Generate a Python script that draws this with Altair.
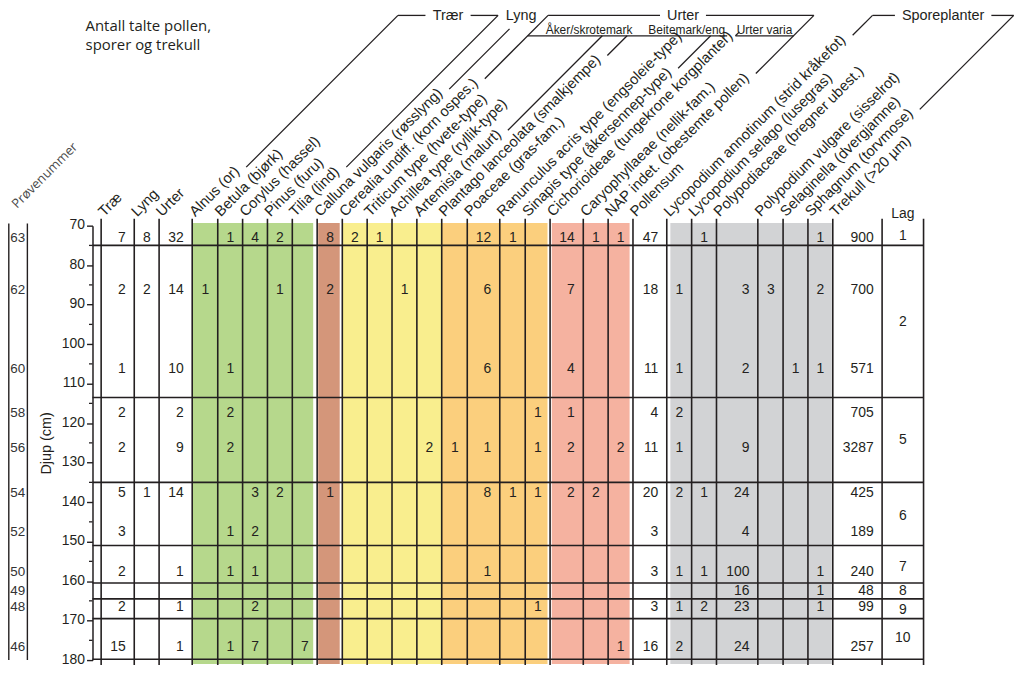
import altair as alt
import pandas as pd

# ---------------- data ----------------
_ = None
columns = [
    "Træ", "Lyng", "Urter",
    "Alnus (or)", "Betula (bjørk)", "Corylus (hassel)", "Pinus (furu)", "Tilia (lind)",
    "Calluna vulgaris (røsslyng)",
    "Cerealia undiff. (korn ospes.)", "Triticum type (hvete-type)", "Achillea type (ryllik-type)",
    "Artemisia (malurt)", "Plantago lanceolata (smalkjempe)", "Poaceae (gras-fam.)",
    "Ranunculus acris type (engsoleie-type)", "Sinapis type (åkersennep-type)",
    "Cichorioideae (tungekrone korgplanter)", "Caryophyllaeae (nellik-fam.)",
    "NAP indet. (obestemte pollen)", "Pollensum",
    "Lycopodium annotinum (strid kråkefot)", "Lycopodium selago (lusegras)",
    "Polypodiaceae (bregner ubest.)", "Polypodium vulgare (sisselrot)",
    "Selaginella (dvergjamne)", "Sphagnum (torvmose)", "Trekull (>20 µm)",
]
samples = [63, 62, 60, 58, 56, 54, 52, 50, 49, 48, 46]
sample_depths = [73.2, 86.4, 106.3, 117.4, 126.2, 137.6, 147.7, 157.7, 162.6, 166.6, 176.6]

s63 = [7, 8, 32, _, 1, 4, 2, _, 8, 2, 1, _, _, _, 12, 1, _, 14, 1, 1, 47, _, 1, _, _, _, 1, 900]
s62 = [2, 2, 14, 1, _, _, 1, _, 2, _, _, 1, _, _, 6, _, _, 7, _, _, 18, 1, _, 3, 3, _, 2, 700]
s60 = [1, _, 10, _, 1, _, _, _, _, _, _, _, _, _, 6, _, _, 4, _, _, 11, 1, _, 2, _, 1, 1, 571]
s58 = [2, _, 2, _, 2, _, _, _, _, _, _, _, _, _, _, _, 1, 1, _, _, 4, 2, _, _, _, _, _, 705]
s56 = [2, _, 9, _, 2, _, _, _, _, _, _, _, 2, 1, 1, _, 1, 2, _, 2, 11, 1, _, 9, _, _, _, 3287]
s54 = [5, 1, 14, _, _, 3, 2, _, 1, _, _, _, _, _, 8, 1, 1, 2, 2, _, 20, 2, 1, 24, _, _, _, 425]
s52 = [3, _, _, _, 1, 2, _, _, _, _, _, _, _, _, _, _, _, _, _, _, 3, _, _, 4, _, _, _, 189]
s50 = [2, _, 1, _, 1, 1, _, _, _, _, _, _, _, _, 1, _, _, _, _, _, 3, 1, 1, 100, _, _, 1, 240]
s49 = [_, _, _, _, _, _, _, _, _, _, _, _, _, _, _, _, _, _, _, _, _, _, _, 16, _, _, 1, 48]
s48 = [2, _, 1, _, _, 2, _, _, _, _, _, _, _, _, _, _, 1, _, _, _, 3, 1, 2, 23, _, _, 1, 99]
s46 = [15, _, 1, _, 1, 7, _, 7, _, _, _, _, _, _, _, _, _, _, _, 1, 16, 2, _, 24, _, _, _, 257]
rows = [s63, s62, s60, s58, s56, s54, s52, s50, s49, s48, s46]

lag_names = ["1", "2", "5", "6", "7", "8", "9", "10"]
lag_depths = [72.5, 94.4, 124.2, 143.5, 156.5, 162.6, 167.2, 174.5]
boundary_depths = [75, 113.5, 135, 151, 160.5, 164.5, 169.5, 179.8]
depth_ticks = list(range(70, 181, 10))
minor_ticks = list(range(75, 180, 10))

# ---------------- layout (not data) ----------------
FONT = "Liberation Sans"
INK = "#231f20"
X0 = 93.0                      # screen x of the depth axis
PX = 437 / 110                 # pixels per cm on the depth scale
col_w = [33.3, 25, 33.3, 25.7, 25, 25, 25, 25, 25.3, 25, 25, 25, 25, 25.7, 32.7,
         25.6, 25, 33.4, 25, 25, 34, 25, 25, 41.6, 25.4, 25, 25, 49.6, 41.7]
edges = [101.7]
for w in col_w:
    edges.append(edges[-1] + w)
left, right = edges[:-1], edges[1:]
LAG = len(col_w) - 1


def rx(sx):
    return sx - X0


def hy(sy):
    return 70 + (sy - 225) / PX


ARIAL = {" ": 278, "(": 333, ")": 333, ".": 278, "-": 333, "/": 278, ">": 584, "µ": 576,
         "A": 667, "B": 667, "C": 722, "L": 556, "N": 722, "P": 667, "R": 722, "S": 667,
         "T": 611, "U": 722, "a": 556, "b": 556, "c": 500, "d": 556, "e": 556, "f": 278,
         "g": 556, "h": 556, "i": 222, "j": 222, "k": 500, "l": 222, "m": 833, "n": 556,
         "o": 556, "p": 556, "r": 333, "s": 500, "t": 278, "u": 556, "v": 500, "y": 500,
         "æ": 889, "ø": 611, "å": 556, "Å": 667}


def tw(s, size):
    return sum(ARIAL.get(ch, 556) for ch in s) * size / 1000


LABEL_SIZE = 14.8
LABEL_Y = 216.5


def anchor(c):
    return left[c] + 3


def legtop(c, top):
    return anchor(c) + (LABEL_Y - top) + 1


bands = [(3, 7, 0, 4, "#b6d88c"), (8, 8, 1, 2.6, "#d4967a"), (9, 12, 0, 0, "#f9ee8e"),
         (13, 16, 0, 2.6, "#fbcf7d"), (17, 19, 1.7, 3.4, "#f5b2a0"), (21, 26, 3.6, 1, "#d2d3d5")]

xs = alt.Scale(domain=[0, 929], nice=False, zero=False)
ys = alt.Scale(domain=[70, 180], reverse=True, nice=False, zero=False)
yaxis = alt.Axis(values=depth_ticks, tickSize=6, tickWidth=1.4, tickColor=INK,
                 domainColor=INK, domainWidth=1.5, labelFont=FONT, labelFontSize=14,
                 labelColor=INK, labelPadding=2, labelOverlap=False, labelFlush=False,
                 labelOffset=-1, grid=False, title="Djup (cm)", titleFont=FONT,
                 titleFontSize=14.5, titleFontWeight="normal", titleColor=INK, titlePadding=8)


def X(f="x"):
    return alt.X(f"{f}:Q", scale=xs, axis=None)


def Y(f="y"):
    return alt.Y(f"{f}:Q", scale=ys, axis=yaxis)


# colour bands
band_df = pd.DataFrame([{"x": rx(left[a] + il), "x2": rx(right[b] - ir), "y": 69.3, "y2": 181,
                         "c": col} for a, b, il, ir, col in bands])
band_layer = alt.Chart(band_df).mark_rect().encode(
    x=X(), x2="x2:Q", y=Y(), y2="y2:Q", color=alt.Color("c:N", scale=None))

# horizontal layer boundaries
hl_df = pd.DataFrame({"y": boundary_depths, "x": 0, "x2": rx(right[-1])})
hl_layer = alt.Chart(hl_df).mark_rule(color=INK, strokeWidth=1.6).encode(
    x=X(), x2="x2:Q", y=Y())

# vertical lines
vl_df = pd.DataFrame({"x": [rx(e) for e in edges], "y": hy(218), "y2": hy(667)})
vl_layer = alt.Chart(vl_df).mark_rule(color=INK, strokeWidth=1.6).encode(x=X(), y=Y(), y2="y2:Q")

pv_df = pd.DataFrame({"x": [rx(8.8), rx(27.5)], "y": hy(222.7), "y2": hy(662)})
pv_layer = alt.Chart(pv_df).mark_rule(color=INK, strokeWidth=1.4).encode(x=X(), y=Y(), y2="y2:Q")

mt_df = pd.DataFrame({"y": minor_ticks})
mt_layer = alt.Chart(mt_df).mark_rule(color=INK, strokeWidth=1.3).encode(
    y=Y(), x=alt.value(-3.5), x2=alt.value(0))

# cell values
vals = []
for r, row in enumerate(rows):
    for c, v in enumerate(row):
        if v is not None:
            vals.append({"x": rx(right[c]), "y": sample_depths[r], "t": str(v)})
val_layer = alt.Chart(pd.DataFrame(vals)).mark_text(
    align="right", baseline="middle", dx=-8.5, font=FONT, fontSize=14, color=INK
).encode(x=X(), y=Y(), text="t:N")

samp_df = pd.DataFrame({"x": rx(10.3), "y": sample_depths, "t": [str(s) for s in samples]})
samp_layer = alt.Chart(samp_df).mark_text(
    align="left", baseline="middle", font=FONT, fontSize=13.5, color="#333333"
).encode(x=X(), y=Y(), text="t:N")

lag_df = pd.DataFrame({"x": rx((left[LAG] + right[LAG]) / 2), "y": lag_depths, "t": lag_names})
lag_layer = alt.Chart(lag_df).mark_text(
    align="center", baseline="middle", font=FONT, fontSize=14, color=INK
).encode(x=X(), y=Y(), text="t:N")

lag_head = alt.Chart(pd.DataFrame({"x": [rx((left[LAG] + right[LAG]) / 2)], "y": [hy(213.5)],
                                   "t": ["Lag"]})).mark_text(
    align="center", baseline="middle", font=FONT, fontSize=14, color=INK
).encode(x=X(), y=Y(), text="t:N")

# rotated column headings
head_df = pd.DataFrame({"x": [rx(anchor(c)) for c in range(len(columns))],
                        "y": hy(LABEL_Y), "t": columns})
head_layer = alt.Chart(head_df).mark_text(
    angle=315, align="left", baseline="alphabetic", font=FONT, fontSize=LABEL_SIZE, color=INK
).encode(x=X(), y=Y(), text="t:N")

# brackets
segs = []


def seg(x1, y1, x2, y2):
    segs.append({"x": rx(x1), "y": hy(y1), "x2": rx(x2), "y2": hy(y2)})


TOP = 13.5          # level of the upper bracket lines
TEXT_MID = 14.5     # middle of the group names
UNDER = 34          # level of the sub-group underlines
SUB_BASE = 32.5     # baseline of the sub-group names
legs = [(3, TOP), (7, TOP), (8, 27), (9, TOP), (12, UNDER), (13, UNDER), (16, UNDER),
        (17, UNDER), (19, TOP), (21, TOP), (26, TOP)]
for c, top in legs:
    d0 = tw(columns[c], LABEL_SIZE) * 0.7071 + 5
    seg(anchor(c) + d0 + 1, LABEL_Y - d0, legtop(c, top), top)

GROUP_SIZE = 14.5
SUB_SIZE = 12
group_texts = []
for name, a, b in [("Trær", 3, 7), ("Urter", 9, 19), ("Sporeplanter", 21, 26)]:
    L, R = legtop(a, TOP), legtop(b, TOP)
    cx = (L + R) / 2 + (2 if name == "Urter" else 0)
    half = tw(name, GROUP_SIZE) / 2 + 7
    seg(L, TOP, cx - half, TOP)
    seg(cx + half, TOP, R, TOP)
    group_texts.append({"x": rx(cx), "y": hy(TEXT_MID), "t": name})
group_texts.append({"x": rx(legtop(8, 27) - 4 + tw("Lyng", GROUP_SIZE) / 2), "y": hy(TEXT_MID),
                    "t": "Lyng"})

sub_texts = [("Åker/skrotemark", 592.5), ("Beitemark/eng", 690.8),
             ("Urter varia", (legtop(17, UNDER) + legtop(19, UNDER)) / 2)]
seg(legtop(9, UNDER), UNDER, 690.8 + tw("Beitemark/eng", SUB_SIZE) / 2 + 2, UNDER)
seg(legtop(17, UNDER), UNDER, legtop(19, UNDER), UNDER)

seg_layer = alt.Chart(pd.DataFrame(segs)).mark_rule(color=INK, strokeWidth=1.3).encode(
    x=X(), y=Y(), x2="x2:Q", y2="y2:Q")

grp_layer = alt.Chart(pd.DataFrame(group_texts)).mark_text(
    align="center", baseline="middle", font=FONT, fontSize=GROUP_SIZE, color=INK
).encode(x=X(), y=Y(), text="t:N")

sub_layer = alt.Chart(pd.DataFrame([{"x": rx(cx), "y": hy(SUB_BASE), "t": t}
                                    for t, cx in sub_texts])).mark_text(
    align="center", baseline="alphabetic", font=FONT, fontSize=SUB_SIZE, color=INK
).encode(x=X(), y=Y(), text="t:N")

# title and sample-number heading
title_df = pd.DataFrame({"x": rx(86), "y": [hy(29.3), hy(48.3)],
                         "t": ["Antall talte pollen,", "sporer og trekull"]})
title_layer = alt.Chart(title_df).mark_text(
    align="left", baseline="alphabetic", font="Open Sans", fontSize=15, color=INK
).encode(x=X(), y=Y(), text="t:N")

pn_layer = alt.Chart(pd.DataFrame({"x": [rx(17)], "y": [hy(208.3)], "t": ["Prøvenummer"]})).mark_text(
    angle=315, align="left", baseline="alphabetic", font="Open Sans", fontSize=13, color="#4a4a4a"
).encode(x=X(), y=Y(), text="t:N")

chart = alt.layer(
    band_layer, hl_layer, vl_layer, pv_layer, mt_layer, val_layer, samp_layer, lag_layer,
    lag_head, head_layer, seg_layer, grp_layer, sub_layer, title_layer, pn_layer
).properties(
    width=929, height=437,
    autosize=alt.AutoSizeParams(type="none"),
    padding={"left": 85, "top": 217, "right": 0, "bottom": 4},
).configure_view(stroke=None)

chart.save("out.html", embed_options={"renderer": "svg", "actions": False})
